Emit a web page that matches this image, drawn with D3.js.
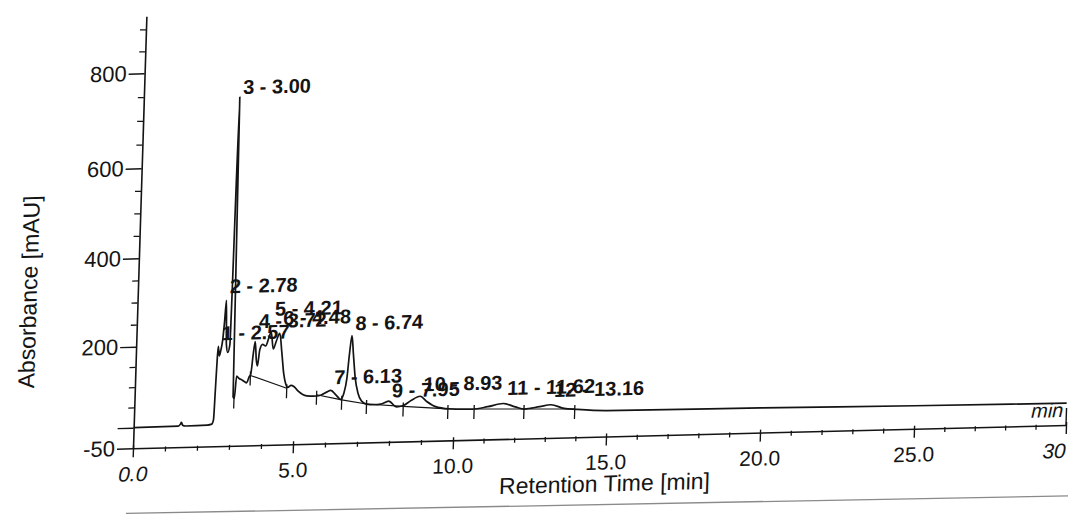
<!DOCTYPE html>
<html><head><meta charset="utf-8">
<script src="https://cdn.jsdelivr.net/npm/d3@7"></script>
<style>html,body{margin:0;padding:0;background:#fff;} svg{display:block;}</style>
</head><body><svg id="c" width="1068" height="516"></svg>
<script>
// ---------- data ----------
const traceTime = [0,1.40,1.46,1.49,1.53,1.62,2.30,2.44,2.49,2.52,2.55,2.57,2.61,2.65,2.70,2.74,2.78,2.82,2.87,2.93,3.00,3.08,3.12,3.17,3.25,3.33,3.42,3.49,3.56,3.61,3.67,3.72,3.77,3.81,3.87,3.95,4.05,4.14,4.21,4.29,4.38,4.48,4.56,4.64,4.71,4.78,4.88,4.97,5.11,5.38,5.69,5.85,6.00,6.13,6.30,6.45,6.54,6.62,6.68,6.74,6.80,6.88,6.98,7.10,7.26,7.50,7.70,7.95,8.20,8.41,8.65,8.93,9.15,9.40,9.85,10.6,11.1,11.6,12.0,12.3,12.8,13.16,13.6,14.0,15.0,20.0,25.0,30.0];
const traceAbs  = [0,1,6,10,3,1,2,4,15,90,170,196,172,185,210,250,300,200,180,200,745,70,66,121,115,112,107,104,118,125,175,205,160,145,185,198,194,212,226,186,205,222,178,125,100,90,95,92,80,68,67,70,76,80,68,57,72,108,170,213,170,110,72,52,44,42,43,50,35,38,50,60,46,34,27,25,30,37,28,22,27,31,21,18,13,10,6,3];

const peakNum   = [1,2,3,4,5,6,7,8,9,10,11,12];
const peakTime  = [2.57,2.78,3.00,3.72,4.21,4.48,6.13,6.74,7.95,8.93,11.62,13.16];
const peakLabelLevel = [210,316,751,235,262,241,95,225,59,72,58,50]; // mAU level of label baseline

const boundaryTime = [3.11,3.60,4.75,5.69,6.48,7.26,8.41,9.81,10.66,12.29,13.95];
const boundaryAbs  = [66,122,88,70,56,44,36,27,25,22,19];
const baselinePairs = [[1,2],[3,4],[4,5],[5,6],[6,7],[8,9],[9,10]];

const xMajorTicks = [0,5,10,15,20,25,30];
const xTickLabels = ["0.0","5.0","10.0","15.0","20.0","25.0","30"];
const yMajorTicks = [-50,0,200,400,600,800];
const yTickLabels = ["-50","","200","400","600","800"];

// ---------- drawing ----------
const FONT = "'Liberation Sans', Arial, Helvetica, sans-serif";
const ink = "#141414";
const svg = d3.select("#c");
svg.append("rect").attr("width",1068).attr("height",516).attr("fill","#fff");

// the scanned sheet is slightly rotated/sheared
const g = svg.append("g").attr("transform","matrix(1,-0.025,-0.031,1,133,448.3)");

const x = d3.scaleLinear().domain([0,10,15,20,25,30]).range([0,320,473,627,781,933]);
const y = d3.scaleLinear().domain([-50,0,200,400,600,800,900,930]).range([0,-20.6,-101.6,-190,-280,-375,-419,-432]);

// paper edge line (scan)
g.append("line").attr("x1",-5).attr("y1",65).attr("x2",940).attr("y2",71)
  .attr("stroke","#8a8a8a").attr("stroke-width",1.3);

// X axis
const xMinor = d3.range(0,31,1).filter(d=>d%5!==0);
const gxm = g.append("g").call(d3.axisBottom(x).tickValues(xMinor).tickSize(4).tickSizeOuter(0).tickFormat(""));
gxm.select(".domain").remove();
gxm.selectAll("line").attr("stroke",ink).attr("stroke-width",1.3).attr("y1",-1);

const gx = g.append("g").call(d3.axisBottom(x).tickValues(xMajorTicks).tickSize(9).tickSizeOuter(0)
  .tickFormat((d,i)=>xTickLabels[i]));
gx.select(".domain").attr("stroke",ink).attr("stroke-width",1.6);
gx.selectAll(".tick line").attr("stroke",ink).attr("stroke-width",1.4).attr("y1",-3);
gx.selectAll(".tick text").attr("y",33).attr("dy",0).attr("fill",ink)
  .style("font-family",FONT).style("font-size","21px");
gx.selectAll(".tick text").filter(d=>d===0||d===30).style("font-style","italic");
gx.selectAll(".tick text").filter(d=>d===30).attr("text-anchor","end").attr("x",0);
// right end mark
g.append("line").attr("x1",x(30)).attr("x2",x(30)).attr("y1",0).attr("y2",-17)
  .attr("stroke",ink).attr("stroke-width",1.4);

// Y axis
const yMinor = d3.range(-50,901,50).filter(d=>!yMajorTicks.includes(d));
const gym = g.append("g").call(d3.axisLeft(y).tickValues(yMinor).tickSize(6).tickSizeOuter(0).tickFormat(""));
gym.select(".domain").remove();
gym.selectAll("line").attr("stroke",ink).attr("stroke-width",1.3);

const gy = g.append("g").call(d3.axisLeft(y).tickValues(yMajorTicks).tickSize(16).tickSizeOuter(0)
  .tickFormat((d,i)=>yTickLabels[i]));
gy.select(".domain").attr("stroke",ink).attr("stroke-width",1.6);
gy.selectAll(".tick line").attr("stroke",ink).attr("stroke-width",1.4);
gy.selectAll(".tick text").attr("x",-18).attr("fill",ink)
  .style("font-family",FONT).style("font-size","22px");

// axis titles
g.append("text").attr("transform",`translate(-101,${y(330)}) rotate(-90)`)
  .attr("text-anchor","middle").attr("fill",ink)
  .style("font-family",FONT).style("font-size","23px").text("Absorbance [mAU]");
g.append("text").attr("x",x(15)).attr("y",55).attr("text-anchor","middle").attr("fill",ink)
  .style("font-family",FONT).style("font-size","23px").text("Retention Time [min]");
g.append("text").attr("x",x(30)-3).attr("y",-8).attr("text-anchor","end").attr("fill",ink)
  .style("font-family",FONT).style("font-size","20px").style("font-style","italic").text("min");

// baselines under integrated peaks
baselinePairs.forEach(([a,b])=>{
  g.append("line")
    .attr("x1",x(boundaryTime[a])).attr("y1",y(boundaryAbs[a]))
    .attr("x2",x(boundaryTime[b])).attr("y2",y(boundaryAbs[b]))
    .attr("stroke",ink).attr("stroke-width",1.1);
});

// chromatogram trace
const pts = traceTime.map((t,i)=>[t,traceAbs[i]]);
g.append("path").datum(pts)
  .attr("d",d3.line().x(d=>x(d[0])).y(d=>y(d[1])).curve(d3.curveMonotoneX))
  .attr("fill","none").attr("stroke",ink).attr("stroke-width",1.7).attr("stroke-linejoin","round");

// peak delimiters
g.selectAll(".delim").data(boundaryTime).join("line")
  .attr("x1",d=>x(d)).attr("x2",d=>x(d))
  .attr("y1",(d,i)=>y(boundaryAbs[i])-4).attr("y2",(d,i)=>y(boundaryAbs[i])+10)
  .attr("stroke",ink).attr("stroke-width",1.3);

// peak labels
g.selectAll(".plabel").data(peakNum).join("text")
  .attr("x",(d,i)=>x(peakTime[i])+3).attr("y",(d,i)=>y(peakLabelLevel[i]))
  .attr("fill",ink).style("font-family",FONT).style("font-size","20px").style("font-weight","bold")
  .text((d,i)=>`${d} - ${peakTime[i].toFixed(2)}`);
</script>
</body></html>
